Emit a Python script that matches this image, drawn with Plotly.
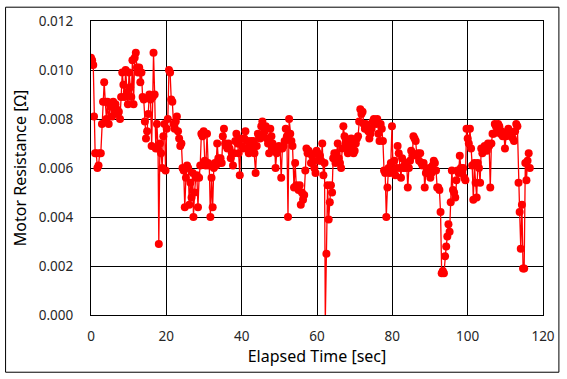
import plotly.graph_objects as go

times = [
 0.0,0.3,0.6,0.8,1.1,1.4,1.7,2.0,2.3,2.6,2.9,3.2,3.5,3.8,4.1,4.4,4.7,5.0,5.3,5.6,5.9,6.2,6.5,6.8,7.1,7.4,7.7,
 8.0,8.3,8.6,8.9,9.2,9.5,9.8,10.1,10.4,10.7,11.0,11.3,11.6,11.9,12.2,12.5,12.8,13.1,13.4,13.7,14.0,14.3,14.6,14.9,
 15.2,15.5,15.8,16.1,16.4,16.6,16.9,17.2,17.5,17.8,18.0,18.3,18.6,18.9,19.2,19.5,19.8,20.1,20.4,20.7,21.0,21.3,21.6,
 21.9,22.2,22.5,22.8,23.1,23.4,23.7,24.0,24.3,24.6,24.9,25.2,25.5,25.8,26.1,26.4,26.7,27.0,27.2,27.5,27.8,28.1,28.4,
 28.7,29.0,29.3,29.6,29.9,30.2,30.5,30.8,31.1,31.4,31.7,32.0,32.3,32.6,32.9,33.2,33.5,33.8,34.1,34.4,34.7,35.0,35.3,
 35.6,35.9,36.2,36.5,36.8,37.1,37.4,37.7,38.0,38.3,38.6,38.9,39.2,39.5,39.8,40.1,40.4,40.7,41.0,41.3,41.6,41.9,42.2,
 42.5,42.8,43.1,43.4,43.7,44.0,44.3,44.6,44.9,45.2,45.5,45.8,46.1,46.4,46.7,47.0,47.3,47.6,47.9,48.2,48.5,48.8,49.0,
 49.3,49.6,49.9,50.2,50.5,50.8,51.1,51.4,51.7,52.0,52.3,52.6,52.9,53.2,53.5,53.9,54.2,54.5,54.8,55.1,55.4,55.7,56.0,
 56.3,56.6,56.9,57.2,57.5,57.8,58.1,58.4,58.7,59.0,59.3,59.6,59.9,60.2,60.5,60.8,61.1,61.4,61.7,62.0,62.2,62.5,62.8,
 63.1,63.4,63.7,64.0,64.3,64.6,64.9,65.2,65.5,65.8,66.1,66.4,66.7,67.0,67.3,67.6,67.9,68.2,68.5,68.8,69.1,69.4,69.7,
 70.0,70.3,70.6,70.9,71.2,71.5,71.8,72.1,72.4,72.7,73.0,73.3,73.6,73.9,74.2,74.5,74.8,75.1,75.4,75.7,76.0,76.3,76.6,
 76.9,77.2,77.5,77.8,78.1,78.4,78.7,79.0,79.3,79.6,79.9,80.2,80.5,80.8,81.1,81.4,81.7,82.0,82.3,82.6,82.9,83.2,83.5,
 83.8,84.1,84.4,84.7,85.0,85.3,85.6,85.9,86.2,86.5,86.8,87.1,87.4,87.7,88.0,88.3,88.6,88.9,89.2,89.5,89.8,90.1,90.4,
 90.7,91.0,91.3,91.6,91.9,92.2,92.5,92.8,93.1,93.4,93.7,94.0,94.3,94.6,94.9,95.2,95.5,95.8,96.1,96.4,96.7,97.0,97.3,
 97.6,97.9,98.2,98.5,98.8,99.1,99.4,99.7,100.0,100.3,100.6,100.9,101.2,101.5,101.8,102.1,102.4,102.7,103.0,103.3,
 103.6,103.9,104.2,104.5,104.8,105.1,105.4,105.7,106.0,106.3,106.6,106.9,107.2,107.5,107.8,108.1,108.4,108.7,109.0,
 109.3,109.6,109.9,110.2,110.5,110.8,111.1,111.4,111.7,112.0,112.3,112.6,112.9,113.2,113.5,113.8,114.1,114.4,114.7,
 115.0,115.3,115.6,115.9,116.2,116.5,
]

resistance = [
 .0105,.0104,.0102,.0081,.0066,.0066,.0060,.0061,.0066,.0066,.0078,.0087,.0095,.0087,.0080,.0087,.0078,.0086,.0085,.0081,.0087,.0083,.0086,.0084,.0082,.0083,.0080,
 .0089,.0099,.0094,.0089,.0100,.0091,.0086,.0099,.0093,.0089,.0104,.0086,.0105,.0107,.0101,.0099,.0101,.0095,.0099,.0089,.0088,.0079,.0072,.0075,
 .0082,.0090,.0088,.0069,.0089,.0107,.0090,.0068,.0078,.0068,.0029,.0070,.0066,.0060,.0073,.0078,.0059,.0076,.0080,.0100,.0099,.0088,.0087,
 .0078,.0076,.0079,.0081,.0075,.0072,.0069,.0070,.0060,.0059,.0044,.0056,.0061,.0060,.0045,.0054,.0048,.0058,.0040,.0050,.0056,.0057,.0044,
 .0056,.0061,.0074,.0073,.0075,.0063,.0061,.0074,.0062,.0061,.0040,.0056,.0044,.0060,.0062,.0061,.0070,.0064,.0062,.0064,.0062,.0073,.0076,
 .0070,.0069,.0068,.0070,.0068,.0064,.0066,.0061,.0066,.0071,.0074,.0070,.0066,.0057,.0072,.0069,.0068,.0072,.0075,.0068,.0071,.0066,.0070,
 .0071,.0068,.0071,.0066,.0058,.0069,.0074,.0073,.0072,.0077,.0079,.0073,.0075,.0077,.0072,.0070,.0066,.0076,.0073,.0070,.0068,.0068,.0060,
 .0066,.0068,.0069,.0068,.0056,.0068,.0069,.0071,.0076,.0073,.0040,.0080,.0074,.0071,.0069,.0052,.0062,.0053,.0052,.0051,.0053,.0045,.0050,
 .0047,.0049,.0059,.0068,.0066,.0067,.0066,.0062,.0065,.0063,.0060,.0058,.0067,.0066,.0063,.0065,.0063,.0070,.0057,.0062,-.0003,.0025,.0053,
 .0039,.0046,.0053,.0050,.0064,.0066,.0062,.0066,.0070,.0064,.0062,.0060,.0068,.0077,.0073,.0072,.0070,.0066,.0068,.0070,.0072,.0068,.0066,
 .0067,.0070,.0072,.0073,.0079,.0084,.0082,.0083,.0078,.0076,.0078,.0077,.0075,.0072,.0074,.0076,.0079,.0080,.0079,.0078,.0080,.0074,.0071,
 .0078,.0076,.0071,.0059,.0058,.0040,.0052,.0060,.0058,.0062,.0077,.0059,.0063,.0057,.0060,.0069,.0066,.0060,.0056,.0064,.0060,.0061,.0060,
 .0062,.0052,.0060,.0063,.0067,.0065,.0073,.0072,.0071,.0065,.0066,.0063,.0066,.0062,.0061,.0062,.0052,.0058,.0059,.0058,.0060,.0056,.0058,
 .0061,.0063,.0062,.0059,.0052,.0052,.0051,.0042,.0017,.0018,.0017,.0024,.0028,.0032,.0037,.0034,.0046,.0059,.0051,.0050,.0048,.0055,.0059,
 .0058,.0065,.0060,.0058,.0060,.0056,.0055,.0076,.0072,.0070,.0076,.0068,.0061,.0047,.0062,.0054,.0048,.0062,.0060,.0054,
 .0068,.0066,.0067,.0069,.0068,.0067,.0070,.0069,.0052,.0070,.0074,.0074,.0078,.0077,.0075,.0078,.0077,.0074,.0075,
 .0073,.0074,.0068,.0073,.0074,.0076,.0075,.0073,.0074,.0072,.0071,.0075,.0078,.0077,.0054,.0042,.0027,.0045,.0019,
 .0019,.0062,.0055,.0063,.0066,.0060,
]

x_ticks = [0, 20, 40, 60, 80, 100, 120]
y_ticks = [0.000, 0.002, 0.004, 0.006, 0.008, 0.010, 0.012]

fig = go.Figure()
fig.add_trace(go.Scatter(
    x=times, y=resistance, mode="lines+markers",
    line=dict(color="#FF0000", width=1.3),
    marker=dict(color="#FF0000", size=8),
    showlegend=False,
))

tick_font = dict(family="Noto Sans", size=13.5, color="#262626")
title_font = dict(family="Noto Sans", size=16, color="#000000")

fig.update_layout(
    width=567, height=379, autosize=False,
    margin=dict(l=91, r=21, t=17, b=64),
    paper_bgcolor="white", plot_bgcolor="white",
    xaxis=dict(
        range=[0, 120], tickvals=x_ticks, ticktext=[str(v) for v in x_ticks],
        showgrid=True, gridcolor="black", gridwidth=1,
        showline=True, linecolor="black", linewidth=1, mirror=True,
        zeroline=False, ticks="", tickfont=tick_font, ticklabelstandoff=9,
        title=dict(text="Elapsed Time [sec]", font=title_font, standoff=4),
    ),
    yaxis=dict(
        range=[0, 0.012], tickvals=y_ticks, ticktext=[f"{v:.3f}" for v in y_ticks],
        showgrid=True, gridcolor="black", gridwidth=1,
        showline=True, linecolor="black", linewidth=1, mirror=True,
        zeroline=False, ticks="", tickfont=tick_font, ticklabelstandoff=14,
        title=dict(text="Motor Resistance [Ω]", font=title_font, standoff=8),
    ),
    shapes=[dict(
        type="rect", xref="paper", yref="paper",
        x0=(5 - 91) / 455, x1=(562 - 91) / 455,
        y0=(315 - 373) / 298, y1=(315 - 3) / 298,
        line=dict(color="black", width=1), layer="above",
    )],
)

fig.write_html(
    "out.html",
    config={"displayModeBar": False},
    post_script="document.body.style.margin='0';document.body.style.overflow='hidden';document.documentElement.style.overflow='hidden';",
)
